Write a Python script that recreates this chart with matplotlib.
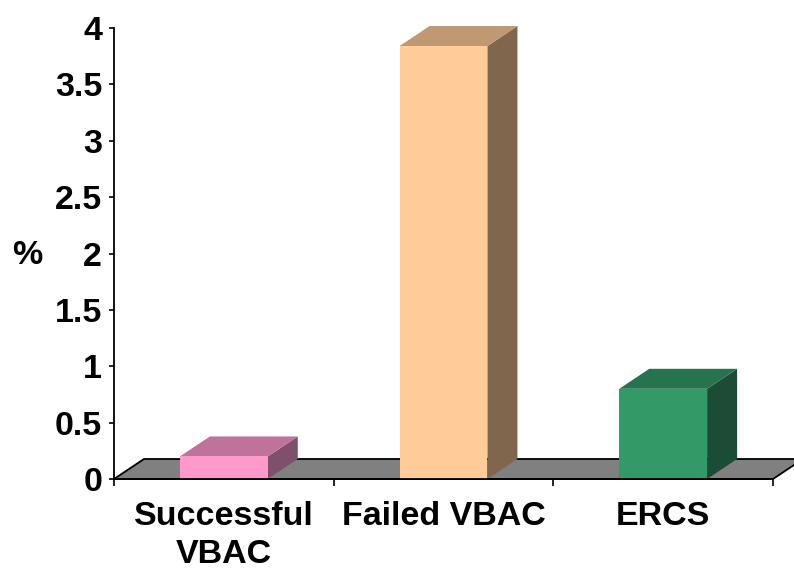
import matplotlib
matplotlib.use("Agg")
import matplotlib.pyplot as plt
from matplotlib.patches import Polygon

categories = ["Successful\nVBAC", "Failed VBAC", "ERCS"]
values = [0.2, 3.84, 0.8]
front_colors = ["#FF99CC", "#FFCC99", "#339966"]
top_colors = ["#C0739A", "#C09973", "#267350"]
side_colors = ["#80506B", "#80664D", "#1A4D33"]
yticks = [0, 0.5, 1, 1.5, 2, 2.5, 3, 3.5, 4]
ytick_labels = ["0", "0.5", "1", "1.5", "2", "2.5", "3", "3.5", "4"]
y_label = "%"

W, H = 794, 573
FONT = "Liberation Sans"
FS = 24.5

fig = plt.figure(figsize=(W / 100, H / 100), dpi=100)
ax_l, ax_r, ax_t, ax_b = 114, 773, 28, 479
ax = fig.add_axes([ax_l / W, (H - ax_b) / H, (ax_r - ax_l) / W, (ax_b - ax_t) / H])
n = len(categories)
ax.set_xlim(0, n)
ax.set_ylim(0, 4)

# depth offsets in data units (30 px right, 20 px up)
dx = 30 / ((ax_r - ax_l) / n)
dy = 20 / ((ax_b - ax_t) / 4)

floor = Polygon([(0, 0), (n, 0), (n + dx, dy), (dx, dy)], closed=True,
                facecolor="#808080", edgecolor="black", lw=1.3,
                clip_on=False, zorder=1)
ax.add_patch(floor)

xpos = [i + 0.5 for i in range(n)]
bars = ax.bar(xpos, values, width=0.4, color=front_colors, zorder=4, clip_on=False)
for rect, ct, cs in zip(bars, top_colors, side_colors):
    x0 = rect.get_x()
    x1 = x0 + rect.get_width()
    h = rect.get_height()
    top = Polygon([(x0, h), (x1, h), (x1 + dx, h + dy), (x0 + dx, h + dy)],
                  closed=True, facecolor=ct, edgecolor="none", clip_on=False, zorder=3)
    side = Polygon([(x1, 0), (x1 + dx, dy), (x1 + dx, h + dy), (x1, h)],
                   closed=True, facecolor=cs, edgecolor="none", clip_on=False, zorder=3)
    ax.add_patch(side)
    ax.add_patch(top)

for s in ["top", "right"]:
    ax.spines[s].set_visible(False)
for s in ["left", "bottom"]:
    ax.spines[s].set_linewidth(1.3)
    ax.spines[s].set_zorder(5)

ax.set_yticks(yticks)
ax.set_yticklabels(ytick_labels, fontfamily=FONT, fontweight="bold", fontsize=FS)
ax.tick_params(axis="y", direction="out", length=3.5, width=1.2, pad=5)

ax.set_xticks(range(n + 1))
ax.set_xticklabels([])
ax.tick_params(axis="x", which="major", direction="out", length=5, width=1.2)
ax.set_xticks(xpos, minor=True)
ax.set_xticklabels(categories, minor=True, fontfamily=FONT, fontweight="bold",
                   fontsize=FS, linespacing=1.3)
ax.tick_params(axis="x", which="minor", length=0, pad=16)

ax.set_ylabel(y_label, rotation=0, fontfamily=FONT, fontweight="bold", fontsize=FS,
              ha="center", va="center")
ax.yaxis.set_label_coords((27 - ax_l) / (ax_r - ax_l), (ax_b - 255) / (ax_b - ax_t))

fig.savefig("out.png", dpi=100)
